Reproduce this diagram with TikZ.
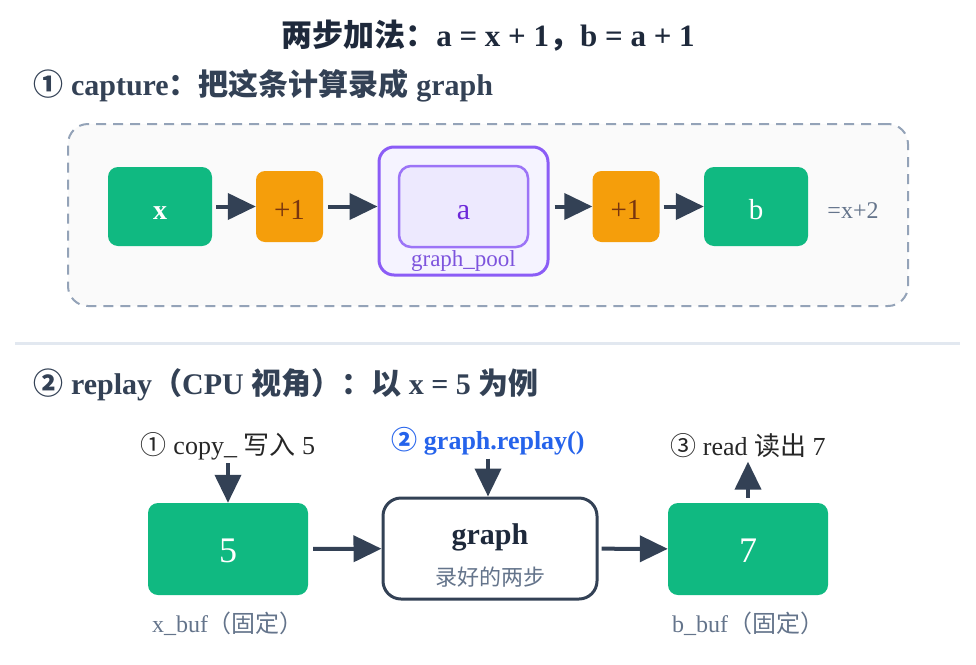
\documentclass[tikz,border=0pt]{standalone}
\usepackage{fontspec}
\setmainfont{Liberation Serif}
\newfontfamily\cjk{Noto Sans CJK SC}
\usetikzlibrary{arrows.meta}
\definecolor{groen}{HTML}{10B981}
\definecolor{oranje}{HTML}{F59E0B}
\definecolor{bruin}{HTML}{78350F}
\definecolor{paars}{HTML}{8B5CF6}
\definecolor{paarsd}{HTML}{6D28D9}
\definecolor{paarsl}{HTML}{F5F3FF}
\definecolor{paarsm}{HTML}{EDE9FE}
\definecolor{donker}{HTML}{334155}
\definecolor{titelkl}{HTML}{1E293B}
\definecolor{grijs}{HTML}{64748B}
\definecolor{kaderkl}{HTML}{94A3B8}
\definecolor{lijnkl}{HTML}{E2E8F0}
\definecolor{blauw}{HTML}{2563EB}
\newcommand{\zh}[1]{{\cjk #1}}
\newcommand{\fs}[1]{\fontsize{#1}{#1}\selectfont}

\begin{document}
\begin{tikzpicture}[x=1pt,y=-1pt,
  buf/.style={fill=groen, rounded corners=10pt, text=white, inner sep=0pt,
    text height=25pt, text depth=0pt},
  plus/.style={fill=oranje, rounded corners=9pt, text=bruin, inner sep=0pt,
    minimum width=67pt, minimum height=71pt, font=\fs{29}, text height=26pt, text depth=0pt},
  pijl/.style={draw=donker, line width=4pt, -{Triangle[length=28pt,width=26pt]}},
  kop/.style={anchor=west, text=donker, font=\fs{30}\bfseries},
  onder/.style={text=grijs, font=\fs{24}}]
\useasboundingbox (0,0) rectangle (976,664);

% Titel
\node[text=titelkl, font=\fs{31}\bfseries] (titel) at (488,36)
  {\zh{两步加法：}a = x + 1\zh{，}b = a + 1};

% Deel 1: capture
\node[kop] (kop1) at (30,86) {\zh{①} capture\zh{：把这条计算录成} graph};
\node[draw=kaderkl, fill=black!2, line width=2pt, dash pattern=on 10pt off 7pt,
  rounded corners=20pt, minimum width=840pt, minimum height=182pt] (kader) at (488,215) {};

\node[buf, minimum width=104pt, minimum height=79pt, font=\fs{28}\bfseries] (x) at (160,206.5) {x};
\node[plus] (p1) at (289.5,206.5) {+1};
\node[draw=paars, fill=paarsl, line width=3pt, rounded corners=15pt,
  minimum width=169pt, minimum height=128pt] (pool) at (463.5,211) {};
\node[draw=paars!85, fill=paarsm, line width=2.5pt, rounded corners=12pt,
  minimum width=129pt, minimum height=81pt, text=paarsd, font=\fs{30},
  text height=25pt, text depth=0pt] (a) at (463.5,206.5) {a};
\node[text=paars!90!black, font=\fs{23}] (poollabel) at (463.5,261) {graph\_pool};
\node[plus] (p2) at (626,206.5) {+1};
\node[buf, minimum width=104pt, minimum height=79pt, font=\fs{29}] (b) at (756,206.5) {b};
\node[text=grijs, font=\fs{24}] (som) at (853,211) {=x+2};

\draw[pijl, shorten <=4pt] (x) -- (p1);
\draw[pijl, shorten <=5pt] (p1.east) -- (p1.east -| pool.west);
\draw[pijl, shorten <=5pt] (p2.west -| pool.east) -- (p2.west);
\draw[pijl, shorten <=4pt] (p2) -- (b);

% Scheidingslijn
\coordinate (s1) at (15,343);
\coordinate (s2) at (960,343);
\draw[draw=lijnkl, line width=3pt] (s1) -- (s2);

% Deel 2: replay
\node[kop] (kop2) at (30,385) {\zh{②} replay\zh{（}CPU \zh{视角）：以} x = 5 \zh{为例}};

\node[buf, minimum width=160pt, minimum height=92pt, font=\fs{36}, text height=26pt] (xbuf) at (228,549) {5};
\node[draw=donker, fill=white, line width=3pt, rounded corners=18pt,
  minimum width=214pt, minimum height=101pt] (graph) at (490,548.5) {};
\node[text=titelkl, font=\fs{30}\bfseries] (graphnaam) at (490,537) {graph};
\node[text=grijs, font=\fs{22}] (graphsub) at (490,577) {\zh{录好的两步}};
\node[buf, minimum width=160pt, minimum height=92pt, font=\fs{36}, text height=26pt] (bbuf) at (748,549) {7};

\node[onder] (xlabel) at (228,624) {x\_buf\zh{（固定）}};
\node[onder] (blabel) at (748,624) {b\_buf\zh{（固定）}};

\node[font=\fs{26}, text=black!85] (copy) at (228,446) {\zh{①} copy\_ \zh{写入} 5};
\node[font=\fs{26}\bfseries, text=blauw] (replay) at (488,441) {\zh{②} graph.replay()};
\node[font=\fs{26}, text=black!85] (read) at (748,446) {\zh{③} read \zh{读出} 7};

\draw[pijl] (copy.south) -- (xbuf.north);
\draw[pijl] (replay.south) -- (replay.south |- graph.north);
\draw[pijl, shorten <=5pt] (bbuf.north) -- (read.south);
\draw[pijl, shorten <=5pt] (xbuf) -- (graph);
\draw[pijl, shorten <=3pt] (graph) -- (bbuf);
\end{tikzpicture}
\end{document}
